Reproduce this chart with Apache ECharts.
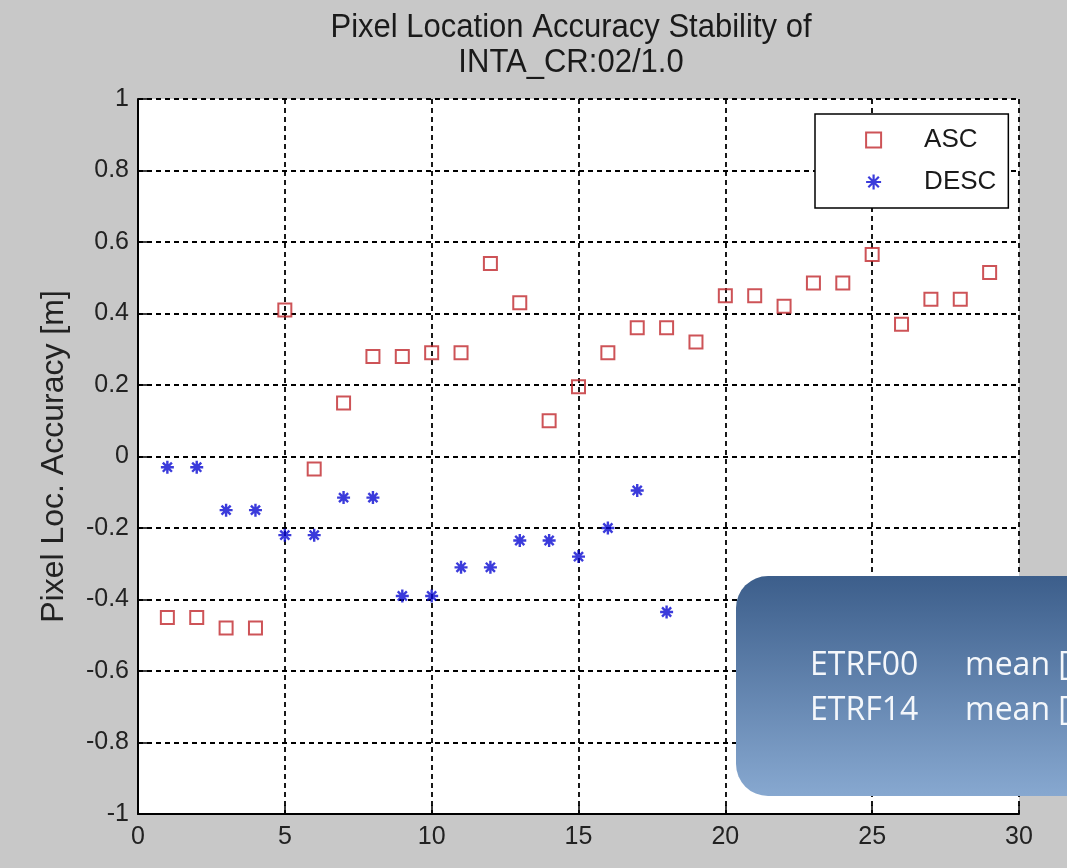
<!DOCTYPE html>
<html>
<head>
<meta charset="utf-8">
<script src="https://cdn.jsdelivr.net/npm/echarts@6/dist/echarts.min.js"></script>
<style>
  html, body { margin: 0; padding: 0; background: #c8c8c8; }
  #chart { width: 1067px; height: 868px; }
</style>
</head>
<body>
<div id="chart"></div>
<script>
// acquisitions 1..29
const ascX = [1, 2, 3, 4, 5, 6, 7, 8, 9, 10, 11, 12, 13, 14, 15, 16, 17, 18, 19, 20, 21, 22, 23, 24, 25, 26, 27, 28, 29];
const ascY = [-0.45, -0.45, -0.48, -0.48, 0.41, -0.035, 0.15, 0.28, 0.28, 0.29, 0.29, 0.54, 0.43, 0.10, 0.195,
  0.29, 0.36, 0.36, 0.32, 0.45, 0.45, 0.42, 0.485, 0.485, 0.565, 0.37, 0.44, 0.44, 0.515];
const descX = [1, 2, 3, 4, 5, 6, 7, 8, 9, 10, 11, 12, 13, 14, 15, 16, 17, 18];
const descY = [-0.03, -0.03, -0.15, -0.15, -0.22, -0.22, -0.115, -0.115, -0.39, -0.39, -0.31, -0.31, -0.235, -0.235,
  -0.28, -0.2, -0.095, -0.435];
const seriesNames = ["ASC", "DESC"];
const titleLines = ["Pixel Location Accuracy Stability of", "INTA_CR:02/1.0"];
const boxLines = ["ETRF00", "ETRF14"];
const boxCol2 = ["mean [", "mean ["];

const asterisk = "path://M0,5L10,5M5,0L5,10M1.5,1.5L8.5,8.5M1.5,8.5L8.5,1.5";
const axisFont = "'Liberation Sans', Arial, sans-serif";
const boxFont = "'Open Sans', 'Noto Sans', sans-serif";
const red = "#c0282d";
const blue = "#0a0ad2";

let myChart = echarts.init(document.getElementById("chart"));

let pair = (xs, ys) => xs.map((x, i) => [x, ys[i]]);

// MATLAB style title, slightly condensed
let titleText = (txt, y) => ({
  type: "text",
  x: 571,
  y: y,
  scaleX: 0.94,
  style: {
    text: txt,
    fontFamily: axisFont,
    fontSize: 33,
    fill: "#1a1a1a",
    align: "center",
    verticalAlign: "middle",
  },
});

let boxText = (txt, x, y) => ({
  type: "text",
  z: 101,
  x: x,
  y: y,
  style: { text: txt, fontFamily: boxFont, fontSize: 32, fill: "#f4f7fb", verticalAlign: "middle" },
});

myChart.setOption({
  backgroundColor: "#c8c8c8",
  animation: false,
  legend: {
    orient: "vertical",
    left: 815,
    top: 114,
    backgroundColor: "#ffffff",
    borderColor: "#000000",
    borderWidth: 1.5,
    padding: [13, 12, 13, 50],
    itemGap: 16,
    itemWidth: 15,
    itemHeight: 15,
    textStyle: {
      fontFamily: axisFont,
      fontSize: 26,
      color: "#1a1a1a",
      padding: [0, 0, 0, 38],
    },
    data: [
      { name: seriesNames[0], icon: "rect", itemStyle: { color: "rgba(0,0,0,0)", borderColor: red, borderWidth: 2 } },
      { name: seriesNames[1], icon: asterisk, itemStyle: { color: blue, borderColor: blue, borderWidth: 2.2 } },
    ],
  },
  grid: {
    left: 138,
    right: 48,
    top: 99,
    bottom: 54,
    show: true,
    backgroundColor: "#ffffff",
    borderWidth: 0,
  },
  xAxis: {
    type: "value",
    min: 0,
    max: 30,
    interval: 5,
    axisLine: { show: true, onZero: false, lineStyle: { color: "#000", width: 2 } },
    axisTick: { show: true, inside: true, length: 9, lineStyle: { color: "#000", width: 1.5 } },
    axisLabel: { fontFamily: axisFont, fontSize: 25, color: "#222", margin: 11 },
    splitLine: { show: true, lineStyle: { color: "#000", type: [5, 4], width: 1.8 } },
  },
  yAxis: {
    type: "value",
    min: -1,
    max: 1,
    interval: 0.2,
    name: "Pixel Loc. Accuracy [m]",
    nameLocation: "middle",
    nameGap: 68,
    nameTextStyle: { fontFamily: axisFont, fontSize: 32, color: "#222" },
    axisLine: { show: true, onZero: false, lineStyle: { color: "#000", width: 2 } },
    axisTick: { show: true, inside: true, length: 9, lineStyle: { color: "#000", width: 1.5 } },
    axisLabel: { fontFamily: axisFont, fontSize: 25, color: "#222", margin: 9 },
    splitLine: { show: true, lineStyle: { color: "#000", type: [5, 4], width: 1.8 } },
  },
  series: [
    {
      name: seriesNames[0],
      type: "scatter",
      symbol: "rect",
      symbolSize: 13,
      itemStyle: { color: "rgba(0,0,0,0)", borderColor: red, borderWidth: 2 },
      data: pair(ascX, ascY),
    },
    {
      name: seriesNames[1],
      type: "scatter",
      symbol: asterisk,
      symbolSize: 13,
      itemStyle: { color: blue, borderColor: blue, borderWidth: 2.4 },
      data: pair(descX, descY),
    },
  ],
  graphic: [
    titleText(titleLines[0], 28),
    titleText(titleLines[1], 63),
    {
      type: "rect",
      z: 100,
      shape: { x: 736, y: 576, width: 420, height: 220, r: 32 },
      style: {
        fill: new echarts.graphic.LinearGradient(0, 0, 0, 1, [
          { offset: 0, color: "#3c5e8b" },
          { offset: 1, color: "#87a8d0" },
        ]),
      },
    },
    boxText(boxLines[0], 810, 666),
    boxText(boxLines[1], 810, 711),
    boxText(boxCol2[0], 965, 666),
    boxText(boxCol2[1], 965, 711),
  ],
});
</script>
</body>
</html>
